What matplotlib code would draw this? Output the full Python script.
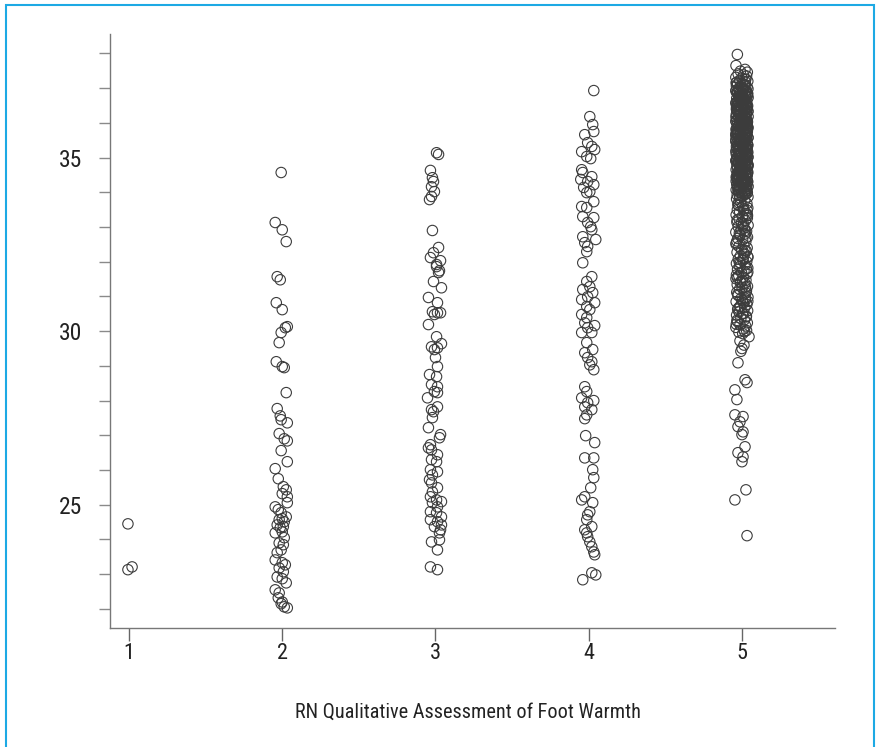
import numpy as np
import matplotlib
matplotlib.use("Agg")
import matplotlib.pyplot as plt
from matplotlib import patches
from matplotlib.ticker import MultipleLocator

# ---- data ----
categories = [1, 2, 3, 4, 5]
tick_labels = ["1", "2", "3", "4", "5"]
x_title = "RN Qualitative Assessment of Foot Warmth"

y_1 = [24.45, 23.13, 23.21]
dx_1 = [-0.007, -0.007, 0.020]

y_2 = [34.57, 33.13, 32.92, 32.58, 31.57, 31.48, 30.82, 30.62, 30.13, 30.10,
       29.96, 29.67, 29.12, 28.98, 28.95, 28.23, 27.77, 27.56, 27.45, 27.36,
       27.05, 26.90, 26.84, 26.56, 26.24, 26.04, 25.75, 25.52, 25.43, 25.32,
       25.23, 25.06, 24.94, 24.86, 24.77, 24.65, 24.60, 24.57, 24.51, 24.42,
       24.37, 24.34, 24.22, 24.19, 24.05, 23.90, 23.85, 23.70, 23.62, 23.41,
       23.33, 23.27, 23.18, 23.07, 22.92, 22.87, 22.75, 22.55, 22.46, 22.32,
       22.20, 22.15, 22.06, 22.03]
dx_2 = [-0.007, -0.046, 0, 0.026, -0.033, -0.013, -0.039, 0, 0.033, 0.020,
        -0.007, -0.020, -0.039, 0, 0.013, 0.026, -0.033, -0.013, -0.007, 0.033,
        -0.020, 0.013, 0.033, -0.007, 0.033, -0.046, -0.026, 0.007, 0.026, 0,
        0.033, 0.033, -0.046, -0.026, -0.007, 0.026, 0, -0.020, 0.013, -0.033,
        0.007, -0.013, 0, -0.046, 0.013, -0.020, 0.007, -0.007, -0.033, -0.046,
        0, 0.020, -0.020, 0.007, -0.033, 0, 0.026, -0.046, -0.020, -0.026,
        0, -0.007, 0.013, 0.033]

y_3 = [35.14, 35.09, 34.63, 34.42, 34.31, 34.16, 34.02, 33.88, 33.79, 32.90,
       32.41, 32.26, 32.12, 32.03, 31.92, 31.86, 31.74, 31.69, 31.43, 31.25,
       30.97, 30.82, 30.56, 30.53, 30.53, 30.48, 30.19, 29.84, 29.64, 29.55,
       29.52, 29.47, 29.24, 28.98, 28.75, 28.69, 28.46, 28.40, 28.26, 28.23,
       28.08, 27.82, 27.74, 27.68, 27.51, 27.22, 27.02, 26.93, 26.73, 26.64,
       26.58, 26.44, 26.30, 26.24, 26.01, 25.95, 25.86, 25.72, 25.63, 25.49,
       25.37, 25.23, 25.14, 25.09, 25.06, 24.94, 24.80, 24.77, 24.65, 24.57,
       24.51, 24.42, 24.37, 24.28, 24.19, 23.99, 23.93, 23.70, 23.21, 23.13]
dx_3 = [0.007, 0.020, -0.033, -0.020, -0.013, -0.026, -0.007, -0.026, -0.039, -0.020,
        0.020, -0.013, -0.033, 0.033, 0.007, 0.007, 0.026, 0.020, -0.013, 0.039,
        -0.046, 0.013, -0.020, 0.013, 0.033, -0.007, -0.046, 0.007, 0.039, -0.026,
        0.013, -0.007, 0, 0.013, -0.039, 0.007, -0.026, 0.013, -0.007, 0.013,
        -0.052, 0.013, -0.026, -0.013, -0.020, -0.046, 0.033, 0.026, -0.033, -0.046,
        -0.026, 0.013, -0.026, 0.007, -0.033, 0.013, -0.020, -0.039, -0.026, 0.013,
        -0.020, -0.033, 0.007, 0.039, -0.020, 0.013, -0.033, 0.007, 0.039, -0.033,
        0.013, 0.039, -0.007, 0.033, 0.026, 0.026, -0.026, 0.013, -0.033, 0.013]

y_4 = [36.93, 36.18, 35.95, 35.75, 35.66, 35.43, 35.32, 35.23, 35.17, 35.03,
       34.97, 34.65, 34.57, 34.45, 34.37, 34.31, 34.22, 34.14, 34.02, 33.99,
       33.73, 33.59, 33.56, 33.30, 33.27, 33.13, 33.01, 32.92, 32.72, 32.64,
       32.55, 32.44, 32.29, 31.97, 31.57, 31.43, 31.28, 31.20, 31.11, 30.99,
       30.91, 30.82, 30.71, 30.62, 30.48, 30.39, 30.24, 30.16, 30.10, 29.96,
       29.96, 29.67, 29.47, 29.38, 29.24, 29.12, 29.03, 28.89, 28.40, 28.26,
       28.08, 28.00, 27.94, 27.82, 27.74, 27.59, 27.48, 26.99, 26.79, 26.35,
       26.35, 26.01, 25.78, 25.49, 25.23, 25.14, 25.06, 24.80, 24.71, 24.57,
       24.37, 24.28, 24.19, 24.08, 23.93, 23.79, 23.64, 23.56, 23.04, 22.98,
       22.84]
dx_4 = [0.033, 0.007, 0.026, 0.033, -0.026, -0.007, 0.020, 0.039, -0.046, -0.013,
        0.013, -0.046, -0.039, 0.020, -0.052, -0.007, 0.033, -0.033, 0.007, -0.013,
        0.033, -0.046, -0.013, -0.039, 0.033, -0.007, 0.013, 0.020, -0.039, 0.046,
        -0.026, -0.007, -0.013, -0.039, 0.020, -0.013, 0.007, -0.039, 0.026, -0.007,
        -0.046, 0.039, -0.013, 0.007, -0.046, -0.013, -0.026, 0.039, -0.007, -0.046,
        0.020, -0.013, 0.026, -0.026, -0.007, 0.020, 0.007, 0.033, -0.026, -0.013,
        -0.046, 0.033, -0.007, -0.026, 0.020, -0.013, -0.026, -0.020, 0.039, -0.026,
        0.033, 0.026, 0.033, 0.013, -0.026, -0.046, 0.026, 0.007, -0.007, -0.013,
        0.020, -0.026, -0.013, -0.007, 0.007, 0.020, 0.033, 0.039, 0.020, 0.046,
        -0.039]

y_5 = [37.97, 37.65, 37.54, 37.49, 37.46, 37.41, 37.38, 37.35, 37.31, 37.29,
       37.26, 37.22, 37.20, 37.17, 37.13, 37.12, 37.08, 37.05, 37.03, 36.99,
       36.97, 36.94, 36.93, 36.89, 36.86, 36.85, 36.81, 36.79, 36.77, 36.73,
       36.71, 36.69, 36.66, 36.64, 36.62, 36.58, 36.57, 36.53, 36.51, 36.49,
       36.46, 36.43, 36.41, 36.40, 36.36, 36.34, 36.31, 36.29, 36.27, 36.24,
       36.22, 36.19, 36.18, 36.14, 36.12, 36.10, 36.07, 36.05, 36.02, 36.01,
       35.98, 35.95, 35.94, 35.91, 35.88, 35.86, 35.84, 35.82, 35.79, 35.77,
       35.74, 35.73, 35.70, 35.67, 35.65, 35.62, 35.61, 35.58, 35.55, 35.53,
       35.51, 35.48, 35.46, 35.43, 35.42, 35.39, 35.36, 35.34, 35.31, 35.29,
       35.27, 35.25, 35.22, 35.19, 35.17, 35.15, 35.12, 35.10, 35.08, 35.05,
       35.03, 35.01, 34.98, 34.96, 34.93, 34.91, 34.89, 34.86, 34.84, 34.82,
       34.79, 34.77, 34.74, 34.72, 34.70, 34.67, 34.65, 34.63, 34.60, 34.58,
       34.55, 34.53, 34.51, 34.48, 34.46, 34.43, 34.41, 34.38, 34.36, 34.34,
       34.31, 34.29, 34.26, 34.24, 34.21, 34.19, 34.17, 34.14, 34.12, 34.09,
       34.07, 34.04, 34.02, 33.99, 33.97, 33.94, 33.92, 33.89, 33.87, 33.84,
       37.10, 36.92, 36.75, 36.60, 36.47, 36.33, 36.16, 36.03, 35.90, 35.76,
       35.63, 35.49, 35.35, 35.20, 35.07, 34.94, 34.80, 34.68, 34.56, 34.44,
       36.88, 36.55, 36.25, 35.97, 35.69, 35.40, 35.13, 34.87, 34.61, 34.33,
       36.68, 36.38, 36.09, 35.80, 35.57, 35.32, 34.99, 34.75, 34.50, 34.22,
       37.18, 37.06, 36.96, 36.83, 36.72, 36.63, 36.52, 36.44, 36.35, 36.26,
       36.17, 36.06, 35.99, 35.87, 35.78, 35.68, 35.59, 35.50, 35.41, 35.30,
       35.21, 35.11, 35.02, 34.92, 34.83, 34.73, 34.64, 34.54, 34.45, 34.35,
       34.27, 34.16, 34.06, 33.96, 36.98, 36.80, 36.65, 36.48, 36.30, 36.13,
       35.96, 35.83, 35.66, 35.52, 35.37, 35.23, 35.09, 34.95, 34.81, 34.66,
       34.52, 34.39, 34.25, 34.11, 37.15, 36.90, 36.70, 36.42, 36.21, 36.00,
       35.85, 35.71, 35.56, 35.45, 35.28, 35.16, 35.04, 34.90, 34.78, 34.59,
       34.47, 34.30, 34.18, 34.01, 36.84, 36.56, 36.37, 36.11, 35.92, 35.72,
       37.02, 36.91, 36.82, 36.74, 36.67, 36.59, 36.50, 36.45, 36.39, 36.32,
       36.23, 36.15, 36.08, 35.99, 35.93, 35.85, 35.78, 35.70, 35.64, 35.57,
       35.49, 35.44, 35.36, 35.27, 35.20, 35.14, 35.06, 34.98, 34.92, 34.85,
       34.77, 34.69, 34.62, 34.53, 34.47, 34.40, 34.32, 34.23, 34.15, 34.08,
       36.95, 36.78, 36.61, 36.44, 36.28, 36.12, 35.96, 35.81, 35.66, 35.47,
       35.33, 35.18, 35.03, 34.88, 34.73, 34.57, 34.42, 34.28, 34.13, 33.98,
       36.86, 36.70, 36.53, 36.36, 36.20, 36.04, 35.88, 35.72, 35.54, 35.38,
       35.24, 35.08, 34.93, 34.79, 34.64, 34.49, 34.36, 34.20, 34.05, 33.91,
       33.81, 33.76, 33.72, 33.68, 33.62, 33.59, 33.55, 33.50, 33.47, 33.43,
       33.39, 33.35, 33.30, 33.26, 33.23, 33.18, 33.14, 33.09, 33.05, 33.01,
       32.97, 32.93, 32.88, 32.85, 32.80, 32.76, 32.71, 32.67, 32.63, 32.58,
       32.54, 32.49, 32.44, 32.40, 32.35, 32.31, 32.27, 32.22, 32.17, 32.13,
       32.08, 32.04, 32.00, 31.95, 31.91, 31.86, 31.82, 31.78, 31.73, 31.69,
       31.65, 31.60, 31.56, 31.51, 31.47, 31.43, 31.38, 31.34, 31.29, 31.25,
       31.21, 31.16, 31.12, 31.07, 31.03, 30.98, 30.94, 30.90, 30.85, 30.81,
       30.77, 30.72, 30.68, 30.63, 30.59, 30.55, 30.50, 30.46, 30.41, 30.37,
       30.33, 30.28, 30.24, 30.19, 30.15, 30.11, 30.06, 30.02, 29.97, 29.93,
       33.65, 33.33, 33.12, 32.90, 32.60, 32.25, 31.98, 31.70, 31.40, 31.10,
       30.88, 30.66, 30.43, 30.20, 29.99, 33.48, 32.78, 32.10, 31.55, 30.95,
       33.70, 33.52, 33.37, 33.20, 33.03, 32.83, 32.69, 32.51, 32.33, 32.15,
       31.96, 31.80, 31.62, 31.45, 31.27, 31.06, 30.86, 30.70, 30.52, 30.31,
       29.84, 29.72, 29.60, 29.50, 29.42, 29.09, 28.60, 28.52, 28.31, 28.03,
       27.59, 27.54, 27.39, 27.25, 27.10, 27.02, 26.67, 26.50, 26.38, 26.24,
       25.43, 25.14, 24.11]
dx_5 = [-0.030, -0.039, 0.020, -0.010, 0.035, -0.025, 0.010, 0.030, -0.040, 0.000,
        0.025, -0.015, 0.038, -0.035, 0.005, -0.028, 0.018, -0.005, 0.033, -0.020,
        0.012, -0.038, 0.028, -0.008, 0.036, -0.030, 0.003, 0.022, -0.018, 0.040,
        -0.034, 0.015, -0.002, 0.031, -0.024, 0.008, -0.040, 0.026, -0.012, 0.037,
        -0.006, 0.034, -0.036, 0.019, -0.016, 0.039, -0.027, 0.002, 0.029, -0.037,
        0.016, -0.022, 0.040, -0.009, 0.024, -0.033, 0.011, -0.039, 0.032, -0.014,
        0.006, -0.031, 0.027, -0.019, 0.038, -0.004, 0.021, -0.038, 0.013, -0.026,
        0.035, -0.011, 0.017, -0.036, 0.030, 0.001, -0.023, 0.039, -0.032, 0.009,
        -0.017, 0.028, -0.040, 0.014, -0.007, 0.036, -0.029, 0.023, -0.013, 0.004,
        0.031, -0.035, 0.010, -0.021, 0.037, -0.003, 0.025, -0.037, 0.018, -0.010,
        -0.028, 0.039, -0.015, 0.007, 0.033, -0.039, 0.020, -0.006, 0.027, -0.024,
        0.013, -0.033, 0.036, -0.012, 0.003, 0.029, -0.038, 0.016, -0.020, 0.038,
        -0.004, 0.024, -0.030, 0.034, -0.018, 0.011, -0.036, 0.032, 0.000, -0.025,
        0.037, -0.009, 0.019, -0.034, 0.026, -0.016, 0.040, -0.027, 0.008, 0.030,
        -0.038, 0.014, -0.022, 0.035, -0.001, 0.022, -0.031, 0.005, 0.039, -0.014,
        0.021, -0.040, 0.009, -0.019, 0.032, -0.029, 0.017, 0.036, -0.008, -0.035,
        0.028, -0.012, 0.038, -0.026, 0.004, -0.037, 0.023, -0.003, 0.034, -0.021,
        -0.033, 0.019, -0.010, 0.031, -0.039, 0.012, 0.037, -0.024, 0.001, 0.026,
        0.008, -0.028, 0.033, -0.015, 0.039, -0.036, 0.015, -0.005, 0.024, -0.031,
        0.022, -0.036, 0.005, 0.037, -0.019, 0.013, -0.030, 0.031, -0.008, 0.019,
        -0.039, 0.026, -0.013, 0.004, 0.035, -0.027, 0.016, -0.002, -0.034, 0.033,
        0.009, -0.021, 0.038, -0.031, 0.002, 0.025, -0.016, 0.036, -0.037, 0.014,
        -0.005, 0.030, -0.026, 0.018, 0.039, -0.012, 0.007, -0.035, 0.027, -0.020,
        0.034, -0.009, 0.021, -0.040, 0.011, 0.032, -0.024, 0.000, 0.038, -0.017,
        -0.029, 0.015, -0.003, 0.029, -0.038, 0.024, -0.011, 0.035, -0.022, 0.006,
        0.039, -0.032, 0.012, -0.018, 0.027, -0.006, 0.033, -0.039, 0.017, -0.013,
        0.004, 0.036, -0.027, 0.020, -0.015, 0.031, -0.035, 0.010, -0.004, 0.028,
        0.001, -0.026, 0.032, -0.014, 0.019, -0.037, 0.008, 0.027, -0.021, 0.038,
        -0.010, 0.023, -0.033, 0.013, -0.003, 0.034, -0.028, 0.006, -0.040, 0.029,
        0.017, -0.018, 0.036, -0.025, 0.010, -0.006, 0.031, -0.034, 0.022, -0.012,
        0.039, -0.030, 0.003, 0.025, -0.016, 0.014, -0.038, 0.033, -0.001, -0.023,
        -0.019, 0.035, -0.032, 0.009, 0.026, -0.008, 0.018, -0.036, 0.030, -0.004,
        0.012, -0.040, 0.024, -0.011, 0.037, -0.027, 0.002, 0.020, -0.015, 0.033,
        -0.031, 0.007, 0.029, -0.020, 0.015, -0.039, 0.035, -0.007, 0.011, -0.024,
        0.026, -0.013, -0.035, 0.038, -0.002, 0.021, -0.029, 0.010, 0.032, -0.017,
        -0.035, 0.018, -0.008, 0.032, -0.022, 0.005, 0.038, -0.030, 0.012, -0.015,
        0.027, -0.038, 0.002, 0.035, -0.018, 0.022, -0.033, 0.009, 0.040, -0.025,
        0.015, -0.005, 0.030, -0.040, 0.020, -0.012, 0.036, -0.027, 0.004, 0.025,
        -0.037, 0.011, -0.020, 0.034, -0.002, 0.028, -0.032, 0.017, -0.010, 0.039,
        -0.024, 0.006, 0.031, -0.036, 0.021, -0.014, 0.038, -0.029, 0.013, -0.003,
        0.033, -0.021, 0.008, -0.039, 0.026, -0.009, 0.019, -0.031, 0.036, 0.001,
        -0.016, 0.029, -0.034, 0.014, -0.025, 0.039, -0.006, 0.023, -0.038, 0.010,
        0.032, -0.011, 0.018, -0.028, 0.037, -0.019, 0.003, -0.035, 0.027, -0.007,
        0.016, -0.030, 0.035, -0.013, 0.024, -0.040, 0.010, 0.030, -0.020, 0.005,
        -0.027, 0.036, -0.004, 0.021, -0.033, 0.012, -0.017, 0.038, -0.010, 0.026,
        0.003, -0.024, 0.029, -0.037, 0.017, 0.034, -0.014, 0.008, -0.031, 0.020,
        -0.022, 0.012, 0.034, -0.031, 0.007, -0.017, 0.026, -0.039, 0.019, 0.037,
        -0.010, 0.030, -0.036, 0.003, 0.023, -0.028, 0.038, -0.014, 0.011, -0.033,
        0.046, -0.013, 0.013, 0.000, -0.007, -0.026, 0.020, 0.033, -0.046, -0.033,
        -0.046, 0.007, -0.013, -0.026, 0.007, 0.000, 0.020, -0.026, 0.007, 0.000,
        0.026, -0.046, 0.033]

groups_y = [y_1, y_2, y_3, y_4, y_5]
groups_dx = [dx_1, dx_2, dx_3, dx_4, dx_5]

plt.rcParams['font.family'] = ['Roboto Condensed', 'DejaVu Sans']

fig = plt.figure(figsize=(8.78, 7.47), dpi=100)
ax = fig.add_axes([0.1253, 0.1593, 0.8257, 0.7952])

for k, ys, dxs in zip(categories, groups_y, groups_dx):
    xs = k + np.array(dxs)
    ax.scatter(xs, ys, s=56, facecolors='none', edgecolors='#3c3c3c', linewidths=0.8)

ax.set_xlim(0.876, 5.607)
ax.set_ylim(21.45, 38.56)
ax.set_xticks(categories)
ax.set_xticklabels(tick_labels)
ax.set_yticks([25, 30, 35])
ax.yaxis.set_minor_locator(MultipleLocator(1))

ax.tick_params(axis='y', which='both', length=8, width=1, color='#8a8a8a',
               pad=12, labelsize=17, labelcolor='#222222')
ax.tick_params(axis='x', length=9.5, width=1, color='#666666',
               pad=1, labelsize=16, labelcolor='#222222')

ax.spines['top'].set_visible(False)
ax.spines['right'].set_visible(False)
for side in ['left', 'bottom']:
    ax.spines[side].set_color('#777777')
    ax.spines[side].set_linewidth(1.0)

fig.text(0.533, 0.047, x_title, ha='center', va='center', fontsize=14.6, color='#222222')

# light blue frame round the figure
frame = patches.Rectangle((0.0068, -0.01), 0.9886, 1.0033, transform=fig.transFigure,
                          fill=False, edgecolor='#1DA9E4', linewidth=1.5)
fig.patches.append(frame)

fig.savefig("out.png", dpi=100)
